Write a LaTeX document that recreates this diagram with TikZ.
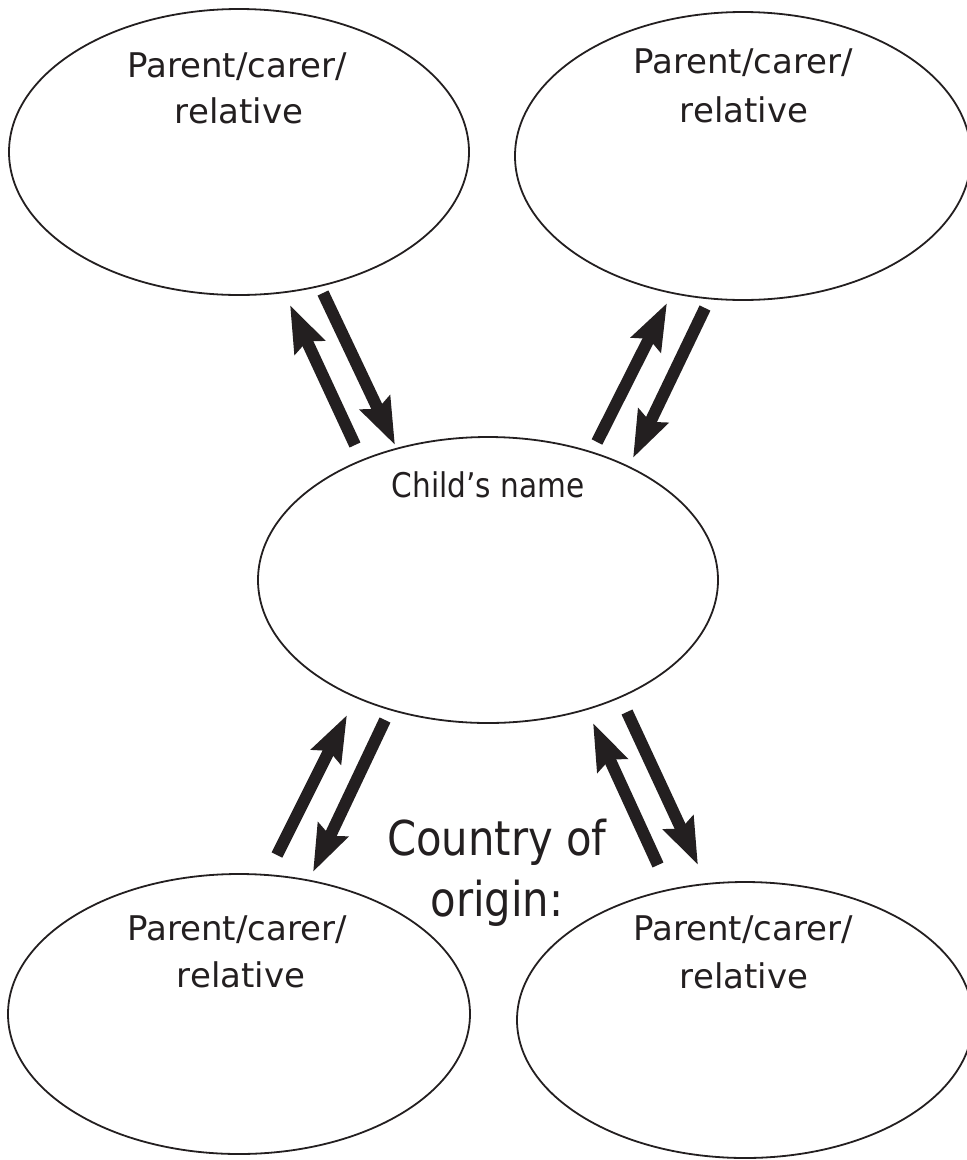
\documentclass[tikz,border=0pt]{standalone}
\usepackage{fontspec}
\setmainfont{DejaVu Sans}
\usetikzlibrary{shapes.geometric,arrows.meta}
\definecolor{ink}{HTML}{231F20}
\tikzset{
  bubble/.style={draw=ink, ellipse, line width=1.8pt, inner sep=0pt},
  lbl/.style={anchor=base, inner sep=0pt, text=ink, font=\fontsize{34}{40}\selectfont},
  big/.style={anchor=base, inner sep=0pt, text=ink, font=\fontsize{48}{56}\selectfont},
  fat/.style={draw=ink, line width=12pt, -{Stealth[length=46pt, width=32pt, inset=6pt]}}
}
\begin{document}
\begin{tikzpicture}[x=1pt, y=-1pt]
\useasboundingbox (0,0) rectangle (967,1160);
% ellipses
\node[bubble, minimum width=460pt, minimum height=286pt] (tl) at (239,152) {};
\node[bubble, minimum width=456pt, minimum height=288pt] (tr) at (743,156) {};
\node[bubble, minimum width=460pt, minimum height=286pt] (c) at (488,580) {};
\node[bubble, minimum width=462pt, minimum height=280pt] (bl) at (239,1014) {};
\node[bubble, minimum width=456pt, minimum height=276pt] (br) at (745,1020) {};
% labels
\node[lbl] (tl1) at (237,77) {Parent/carer/};
\node[lbl] (tl2) at (239,123) {relative};
\node[lbl] (tr1) at (743,73) {Parent/carer/};
\node[lbl] (tr2) at (744,122) {relative};
\node[lbl] (c1) at (488,497) {\scalebox{0.87}[1]{Child’s name}};
\node[big] (co1) at (497,855) {\scalebox{0.87}[1]{Country of}};
\node[big] (co2) at (497,916) {\scalebox{0.87}[1]{origin:}};
\node[lbl] (bl1) at (237,940) {Parent/carer/};
\node[lbl] (bl2) at (241,987) {relative};
\node[lbl] (br1) at (743,940) {Parent/carer/};
\node[lbl] (br2) at (744,988) {relative};
% arrow end points
\coordinate (a1s) at (355,445); \coordinate (a1e) at (290,305);
\coordinate (a2s) at (323,293); \coordinate (a2e) at (395,445);
\coordinate (a3s) at (597,442); \coordinate (a3e) at (667,303);
\coordinate (a4s) at (705,308); \coordinate (a4e) at (633,458);
\coordinate (a5s) at (277,855); \coordinate (a5e) at (347,715);
\coordinate (a6s) at (385,720); \coordinate (a6e) at (313,872);
\coordinate (a7s) at (658,865); \coordinate (a7e) at (593,723);
\coordinate (a8s) at (627,712); \coordinate (a8e) at (698,865);
\draw[fat] (a1s) -- (a1e);
\draw[fat] (a2s) -- (a2e);
\draw[fat] (a3s) -- (a3e);
\draw[fat] (a4s) -- (a4e);
\draw[fat] (a5s) -- (a5e);
\draw[fat] (a6s) -- (a6e);
\draw[fat] (a7s) -- (a7e);
\draw[fat] (a8s) -- (a8e);
\end{tikzpicture}
\end{document}
